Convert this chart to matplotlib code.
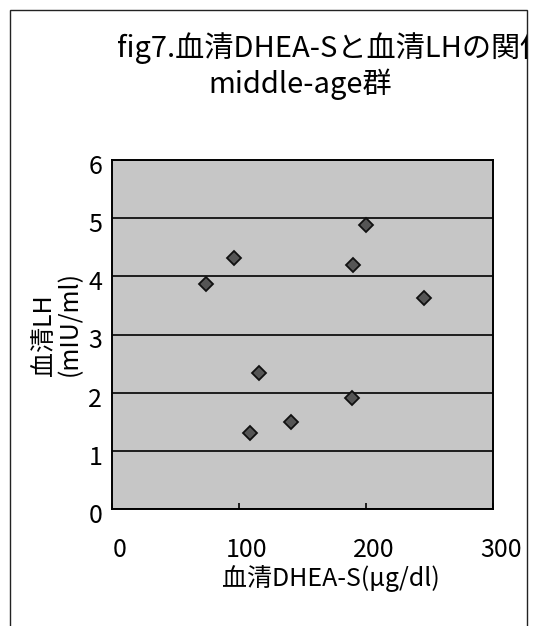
import matplotlib
matplotlib.use("Agg")
import matplotlib.pyplot as plt
from matplotlib.patches import Rectangle
from matplotlib.transforms import Bbox, TransformedBbox, ScaledTranslation

plt.rcParams['font.family'] = ['Noto Sans CJK JP', 'DejaVu Sans']

# Serum DHEA-S (μg/dl) and serum LH (mIU/ml), middle-age group
dhea_s = [74, 96, 200, 190, 246, 116, 189, 141, 109]
lh = [3.86, 4.31, 4.88, 4.19, 3.62, 2.33, 1.90, 1.50, 1.30]

x_ticks = [0, 100, 200, 300]
y_ticks = [0, 1, 2, 3, 4, 5, 6]

title_line1 = 'fig7.血清DHEA-Sと血清LHの関係'
title_line2 = 'middle-age群'
x_label = '血清DHEA-S(μg/dl)'
y_label = '血清LH\n(mIU/ml)'

W, H = 544, 626
fig = plt.figure(figsize=(W / 100, H / 100), dpi=100)
fig.patch.set_facecolor('white')

# plot area in pixel units
left, right, top, bottom = 112, 493, 160, 509
ax = fig.add_axes([left / W, 1 - bottom / H, (right - left) / W, (bottom - top) / H])
ax.set_facecolor('#c6c6c6')

ax.plot(dhea_s, lh, linestyle='none', marker='D', markersize=7,
        markerfacecolor='#555555', markeredgecolor='#111111',
        markeredgewidth=1.3, zorder=3)

ax.set_xlim(0, 300)
ax.set_ylim(0, 6)
ax.set_xticks(x_ticks)
ax.set_yticks(y_ticks)
ax.yaxis.grid(True, color='black', linewidth=1.2)
ax.set_axisbelow(True)
for s in ax.spines.values():
    s.set_color('black')
    s.set_linewidth(1.4)

ax.tick_params(axis='x', direction='in', length=4, width=1.2,
               labelsize=18, pad=20, top=False)
ax.tick_params(axis='y', length=0, labelsize=18, pad=7)

# the outer chart frame clips anything beyond its right edge
frame_right = 527
clip = TransformedBbox(Bbox([[0, 0], [frame_right / W, 1]]), fig.transFigure)

for lab in ax.get_xticklabels():
    lab.set_transform(lab.get_transform() + ScaledTranslation(0.08, 0, fig.dpi_scale_trans))
    lab.set_clip_box(clip)
    lab.set_clip_on(True)
for lab in ax.get_yticklabels():
    lab.set_transform(lab.get_transform() + ScaledTranslation(0, -0.04, fig.dpi_scale_trans))

ax.set_xlabel(x_label, fontsize=18, va='baseline', ha='left')
ax.xaxis.set_label_coords((222 - left) / (right - left), (bottom - 586) / (bottom - top))

ax.set_ylabel(y_label, fontsize=18, multialignment='left', va='center', ha='center',
              linespacing=1.0)
ax.yaxis.set_label_coords((57 - left) / (right - left), (bottom - 324) / (bottom - top))

t1 = fig.text(117 / W, 1 - 57 / H, title_line1, fontsize=21,
              ha='left', va='baseline')
t1.set_clip_box(clip)
t1.set_clip_on(True)
fig.text(208 / W, 1 - 93 / H, title_line2, fontsize=21, ha='left', va='baseline')

fig.add_artist(Rectangle((10 / W, -0.05), (frame_right - 10) / W, 1.05 - 10 / H,
                         transform=fig.transFigure, fill=False,
                         edgecolor='#222222', linewidth=1.0, clip_on=False))

fig.savefig('out.png', dpi=100, facecolor='white')
